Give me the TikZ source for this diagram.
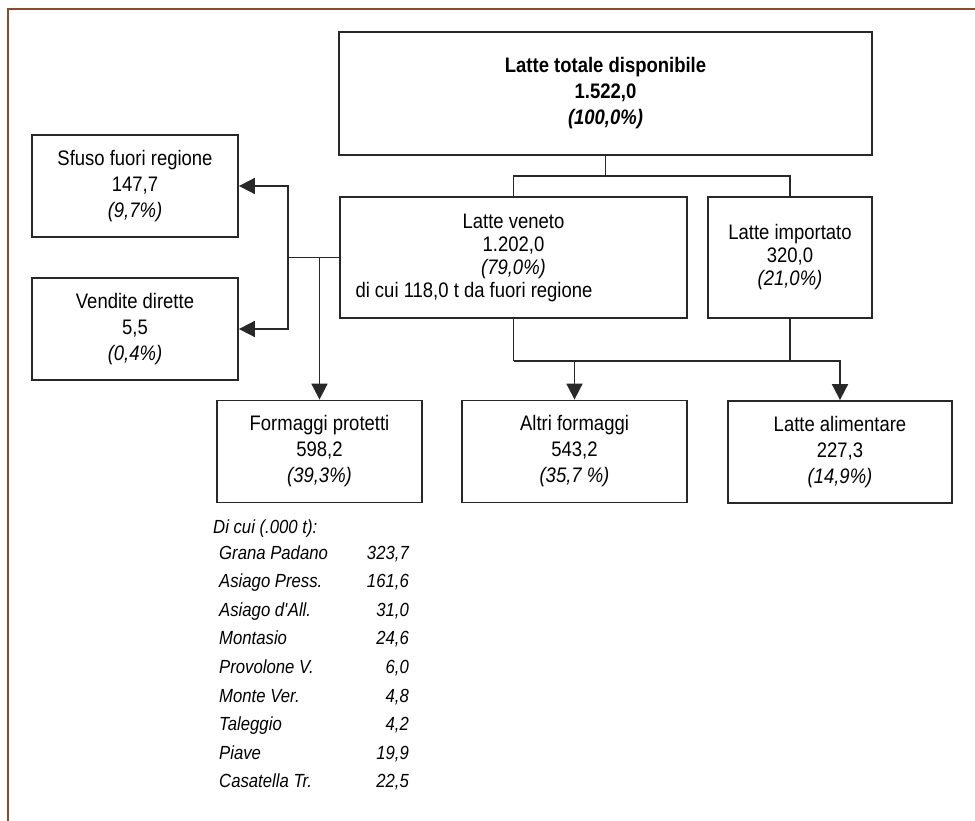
\documentclass[tikz,border=0pt]{standalone}
\usepackage{fontspec}
\setmainfont{Liberation Sans}[FakeStretch=0.88]
\usetikzlibrary{arrows.meta,positioning,calc}
\definecolor{cornice}{RGB}{140,74,46}
\definecolor{tratto}{RGB}{40,40,40}

\begin{document}
\begin{tikzpicture}[x=1pt,y=-1pt,
  box/.style={draw=tratto,line width=1.8pt,align=center,inner sep=0pt,font=\fontsize{21}{26}\selectfont},
  fitto/.style={font=\fontsize{21}{23}\selectfont},
  conn/.style={draw=tratto,line width=1.8pt},
  arr/.style={conn,-{Triangle[length=16pt,width=16pt]}},
  lista/.style={inner sep=0pt,font=\fontsize{19}{22}\selectfont\itshape}]
\useasboundingbox (0,0) rectangle (975,821);
\draw[cornice,line width=2pt] (8,821)--(8,9)--(975,9);

% caselle
\node[box,minimum width=533pt,minimum height=123pt] (totale) at (605.5,93.5) {\textbf{Latte totale disponibile}\\\textbf{1.522,0}\\\textbf{\textit{(100,0\%)}}};
\node[box,fitto,minimum width=347pt,minimum height=121pt] (veneto) at (513.5,257.5) {Latte veneto\\1.202,0\\\textit{(79,0\%)}\\\makebox[316pt][l]{di cui 118,0 t da fuori regione}};
\node[box,fitto,minimum width=164pt,minimum height=121pt] (importato) at (790,257.5) {Latte importato\\320,0\\\textit{(21,0\%)}};
\node[box,minimum width=206pt,minimum height=102pt] (sfuso) at (135,186) {Sfuso fuori regione\\147,7\\\textit{(9,7\%)}};
\node[box,minimum width=206pt,minimum height=102pt] (vendite) at (135,329) {Vendite dirette\\5,5\\\textit{(0,4\%)}};
\node[box,minimum width=205pt,minimum height=102pt] (protetti) at (319.5,451.5) {Formaggi protetti\\598,2\\\textit{(39,3\%)}};
\node[box,minimum width=225pt,minimum height=102pt] (altri) at (574.5,451.5) {Altri formaggi\\543,2\\\textit{(35,7 \%)}};
\node[box,minimum width=224pt,minimum height=102pt] (alimentare) at (840,452) {Latte alimentare\\227,3\\\textit{(14,9\%)}};

% collegamenti
\coordinate (tnodo) at ($(totale.south)+(0,20)$);
\draw[conn] (totale.south) -- (tnodo);
\draw[conn] (veneto.north) |- (tnodo) -| (importato.north);
\coordinate (lnodo) at (288,257.5);
\draw[arr] (veneto.west) -- (lnodo) |- (sfuso.east);
\draw[arr] (lnodo) |- (vendite.east);
\draw[arr] (veneto.west -| protetti.north) -- (protetti.north);
\coordinate (bnodo) at ($(veneto.south)+(0,42)$);
\draw[conn] (veneto.south) -- (bnodo);
\draw[conn] (importato.south) -- (importato.south |- bnodo);
\draw[arr] (bnodo) -| (altri.north);
\draw[arr] (bnodo) -| (alimentare.north);

% dettaglio formaggi protetti
\node[lista,anchor=base west] (dicui) at (213,533) {Di cui (.000 t):};
\foreach \i/\nome/\val in {0/{Grana Padano}/{323,7},1/{Asiago Press.}/{161,6},2/{Asiago d\textquotesingle All.}/{31,0},3/{Montasio}/{24,6},4/{Provolone V.}/{6,0},5/{Monte Ver.}/{4,8},6/{Taleggio}/{4,2},7/{Piave}/{19,9},8/{Casatella Tr.}/{22,5}} {
  \node[lista,anchor=base west] (nome\i) at (219,{559+28.6*\i}) {\nome};
  \node[lista,anchor=base east] (val\i) at (409,{559+28.6*\i}) {\val};}
\end{tikzpicture}
\end{document}
